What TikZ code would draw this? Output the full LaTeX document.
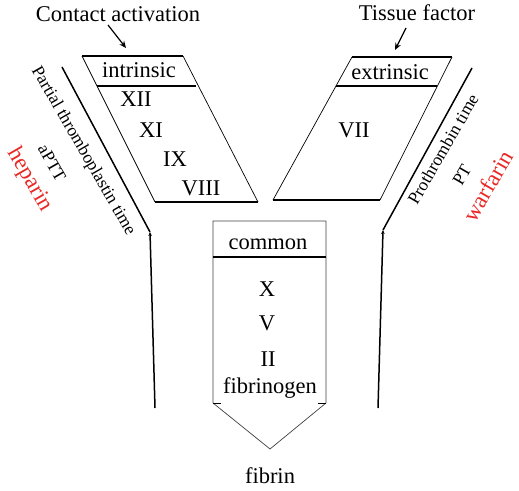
\documentclass[tikz,border=0pt]{standalone}
\usepackage{fontspec}
\setmainfont{Liberation Serif}
\usetikzlibrary{arrows.meta}
\definecolor{drugred}{RGB}{232,40,36}
\begin{document}
\begin{tikzpicture}[x=1pt,y=-1pt,
  lbl/.style={font=\fontsize{22.5}{25}\selectfont, inner sep=0pt, anchor=base},
  side/.style={font=\fontsize{17.5}{20}\selectfont, inner sep=0pt},
  drug/.style={font=\fontsize{23}{26}\selectfont, text=drugred, inner sep=0pt},
  thinedge/.style={line width=0.7pt, line join=round},
  bar/.style={line width=2pt},
  guide/.style={line width=1.5pt, line join=round},
  pointer/.style={line width=1.2pt, -{Stealth[length=7pt,width=6pt]}},
  bendmark/.style={guide, -{Stealth[length=4pt,width=3.5pt]}},
]
\useasboundingbox (0,0) rectangle (519,490);

% headers
\node[lbl] (contact) at (118,21) {Contact activation};
\node[lbl] (tissue) at (417,20) {Tissue factor};
\coordinate (contactStart) at (108,25);
\coordinate (contactTip) at (126,48);
\coordinate (tissueStart) at (406,28);
\coordinate (tissueTip) at (395,50);
\draw[pointer] (contactStart) -- (contactTip);
\draw[pointer] (tissueStart) -- (tissueTip);

% intrinsic parallelogram
\coordinate (iTL) at (82,56);
\coordinate (iTR) at (183,56);
\coordinate (iBR) at (258,202);
\coordinate (iBL) at (155,202);
\draw[thinedge] (iTL) -- (iBL);
\draw[thinedge] (iTR) -- (iBR);
\draw[bar] (iTL) -- (iTR);
\draw[bar] (iBL) -- (iBR);
\draw[bar] (97,86) -- (196,86);
\node[lbl] (intrinsic) at (139,77) {intrinsic};
\node[lbl] (f12) at (136,106) {XII};
\node[lbl] (f11) at (151,137) {XI};
\node[lbl] (f9) at (175,166) {IX};
\node[lbl] (f8) at (201,195) {VIII};

% extrinsic parallelogram
\coordinate (eTL) at (352,57);
\coordinate (eTR) at (452,57);
\coordinate (eBR) at (380,200);
\coordinate (eBL) at (273,200);
\draw[thinedge] (eTL) -- (eBL);
\draw[thinedge] (eTR) -- (eBR);
\draw[bar] (eTL) -- (eTR);
\draw[bar] (eBL) -- (eBR);
\draw[bar] (336,86) -- (437,86);
\node[lbl] (extrinsic) at (390,79) {extrinsic};
\node[lbl] (f7) at (354,137) {VII};

% common pentagon
\coordinate (cTL) at (213,221);
\coordinate (cTR) at (326,221);
\coordinate (cR) at (326,403);
\coordinate (cTip) at (270,449);
\coordinate (cL) at (213,403);
\draw[thinedge, draw=black!75] (cTL) -- (cTR) -- (cR) -- (cTip) -- (cL) -- cycle;
\draw[thinedge] (cL) -- ++(8,0);
\draw[thinedge] (cR) -- ++(-8,0);
\draw[bar] (213,257) -- (326,257);
\node[lbl] (common) at (268,249) {common};
\node[lbl] (fX) at (267,296) {X};
\node[lbl] (fV) at (267,330) {V};
\node[lbl] (fII) at (268,366) {II};
\node[lbl] (fibrinogen) at (270,393) {fibrinogen};
\node[lbl] (fibrin) at (270,483) {fibrin};

% left guide line
\coordinate (lTop) at (62,67);
\coordinate (lBend) at (150,232);
\coordinate (lBot) at (155,408);
\draw[guide] (lTop) -- (lBend);
\draw[bendmark] (lBot) -- (lBend);
\node[side, rotate=-60] (ptt) at (83,151) {Partial thromboplastin time};
\node[side, rotate=-60] (aptt) at (52,163) {aPTT};
\node[drug, rotate=-60] (heparin) at (30,180) {heparin};

% right guide line
\coordinate (rTop) at (472,68);
\coordinate (rBend) at (383,230);
\coordinate (rBot) at (378,408);
\draw[guide] (rTop) -- (rBend);
\draw[bendmark] (rBot) -- (rBend);
\node[side, rotate=60] (prot) at (443,149) {Prothrombin time};
\node[side, rotate=60] (pt) at (462,175) {PT};
\node[drug, rotate=60] (warfarin) at (488,186) {warfarin};
\end{tikzpicture}
\end{document}
